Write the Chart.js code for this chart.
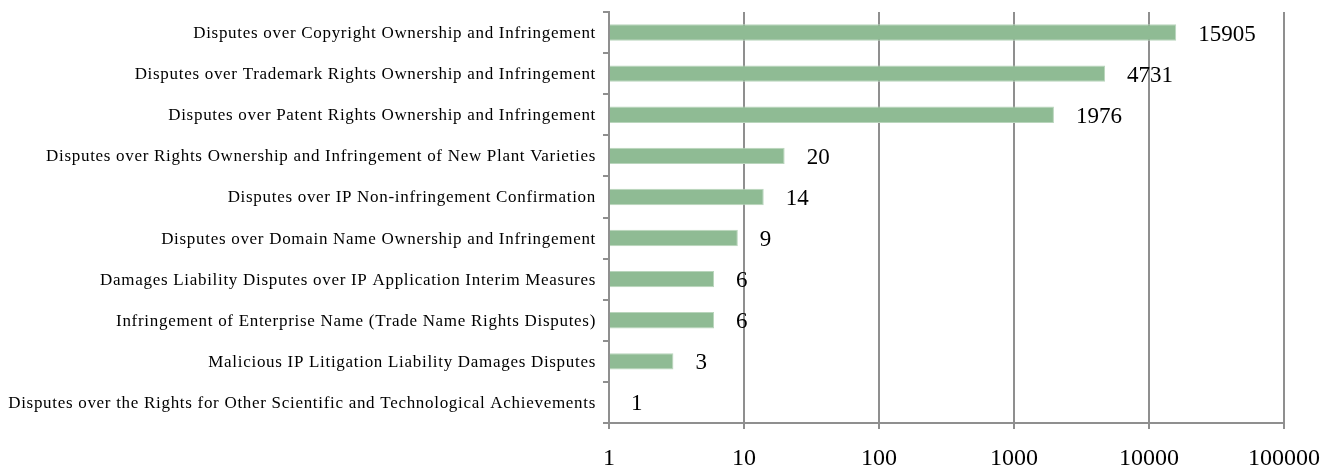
<!DOCTYPE html>
<html>
<head>
<meta charset="utf-8">
<script src="https://cdn.jsdelivr.net/npm/chart.js@4/dist/chart.umd.min.js"></script>
<style>
html,body{margin:0;padding:0;background:#fff;}
#wrap{width:1343px;height:470px;position:relative;}
</style>
</head>
<body>
<div id="wrap"><canvas id="c" width="1343" height="470"></canvas></div>
<script>
const categories = [
  "Disputes over Copyright Ownership and Infringement",
  "Disputes over Trademark Rights Ownership and Infringement",
  "Disputes over Patent Rights Ownership and Infringement",
  "Disputes over Rights Ownership and Infringement of New Plant Varieties",
  "Disputes over IP Non-infringement Confirmation",
  "Disputes over Domain Name Ownership and Infringement",
  "Damages Liability Disputes over IP Application Interim Measures",
  "Infringement of Enterprise Name (Trade Name Rights Disputes)",
  "Malicious IP Litigation Liability Damages Disputes",
  "Disputes over the Rights for Other Scientific and Technological Achievements"
];
const caseCounts = [15905, 4731, 1976, 20, 14, 9, 6, 6, 3, 1];
const xTickValues = [1, 10, 100, 1000, 10000, 100000];

const SERIF = '"Liberation Serif", "Times New Roman", serif';
const GRID = '#8f8f8f';

const textPlugin = {
  id: 'textPlugin',
  afterDraw(chart) {
    const ctx = chart.ctx;
    const meta = chart.getDatasetMeta(0);
    const yScale = chart.scales.y;
    ctx.save();
    // category labels
    ctx.font = '17px ' + SERIF;
    ctx.fillStyle = '#000';
    ctx.textAlign = 'right';
    ctx.textBaseline = 'middle';
    if ('letterSpacing' in ctx) ctx.letterSpacing = '0.7px';
    chart.data.labels.forEach((lab, i) => {
      ctx.fillText(lab, yScale.right - 13, yScale.getPixelForTick(i) + 1);
    });
    if ('letterSpacing' in ctx) ctx.letterSpacing = '0px';
    // value labels
    ctx.font = '23px ' + SERIF;
    ctx.textAlign = 'left';
    meta.data.forEach((bar, i) => {
      ctx.fillText(String(caseCounts[i]), bar.x + 22, bar.y + 2);
    });
    ctx.restore();
  }
};

new Chart(document.getElementById('c'), {
  type: 'bar',
  data: {
    labels: categories,
    datasets: [{
      data: caseCounts,
      backgroundColor: '#8fbb94',
      borderColor: '#b9d5bc',
      borderWidth: 1,
      categoryPercentage: 1,
      barPercentage: 0.4,
      base: 1
    }]
  },
  options: {
    indexAxis: 'y',
    responsive: false,
    animation: false,
    layout: { padding: { top: 12, right: 59, left: 0, bottom: 0 } },
    plugins: { legend: { display: false }, tooltip: { enabled: false } },
    scales: {
      x: {
        type: 'logarithmic',
        min: 1,
        max: 100000,
        afterBuildTicks(scale) { scale.ticks = xTickValues.map(v => ({ value: v })); },
        afterFit(scale) { scale.height = 47; },
        grid: { color: GRID, lineWidth: 2, tickLength: 6, drawTicks: true },
        border: { color: GRID, width: 2 },
        ticks: {
          font: { family: SERIF, size: 24 },
          color: '#000',
          padding: 15,
          maxRotation: 0,
          autoSkip: false,
          callback: (v) => String(v)
        }
      },
      y: {
        afterFit(scale) { scale.width = 609; },
        grid: { drawOnChartArea: false, color: GRID, lineWidth: 2, tickLength: 6, offset: true },
        border: { color: GRID, width: 2 },
        ticks: { display: false }
      }
    }
  },
  plugins: [textPlugin]
});
</script>
</body>
</html>
